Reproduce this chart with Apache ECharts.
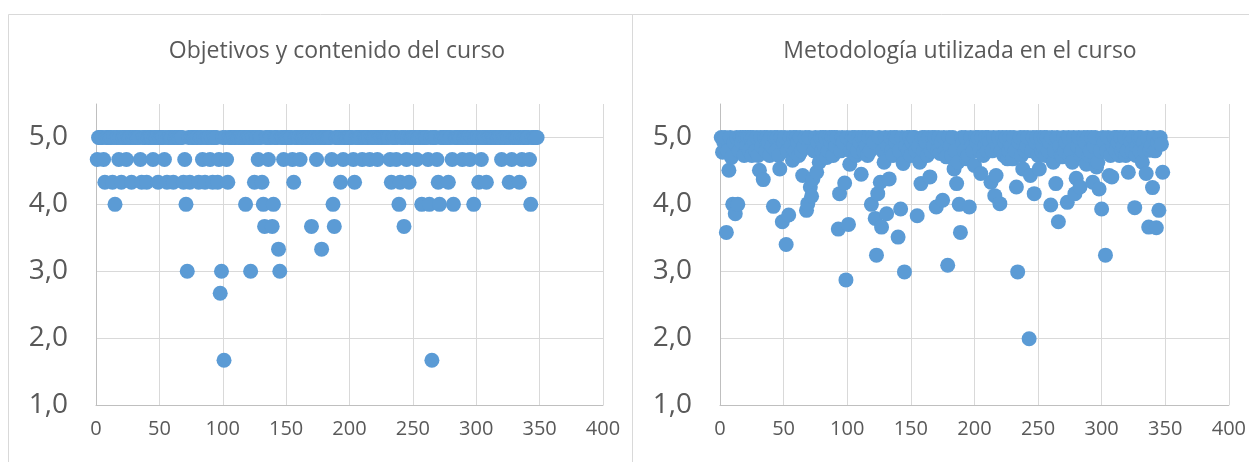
<!DOCTYPE html>
<html>
<head>
<meta charset="utf-8">
<script src="https://cdn.jsdelivr.net/npm/echarts@6/dist/echarts.min.js"></script>
<style>
html,body{margin:0;padding:0;background:#fff;}
#c{width:1249px;height:462px;}
</style>
</head>
<body>
<div id="c"></div>
<script>
// Titles
const titleLeft = 'Objetivos y contenido del curso';
const titleRight = 'Metodología utilizada en el curso';

// X axis ticks
const xTicks = [0, 50, 100, 150, 200, 250, 300, 350, 400];
// Y axis ticks
const yTicks = [1, 2, 3, 4, 5];

// Respondent scores (index 1..348) — "Objetivos y contenido del curso"
const objetivos = [
  4.67,5,5,5,5,4.67,4.33,5,5,5,
  5,5,4.33,5,4.0,5,5,4.67,5,4.33,
  5,5,5,4.67,5,5,5,4.33,5,5,
  5,5,5,5,4.67,4.33,5,5,5,4.33,
  5,5,5,5,4.67,5,5,5,4.33,5,
  5,5,5,4.67,5,4.33,5,5,5,5,
  4.33,5,5,5,5,5,5,5,4.33,4.67,
  4.0,3.0,5,4.33,5,5,5,5,5,5,
  4.33,5,5,4.67,5,4.33,5,5,5,4.67,
  5,4.33,5,5,5,4.33,4.67,2.67,3.0,5,
  1.67,5,4.67,4.33,5,5,5,5,5,5,
  5,5,5,5,5,5,5,4.0,5,5,
  5,3.0,5,5,4.33,5,5,4.67,5,5,
  4.33,4.0,3.67,5,5,4.67,5,5,3.67,4.0,
  5,5,5,3.33,3.0,5,5,4.67,5,5,
  5,5,5,5,4.67,4.33,5,5,5,5,
  4.67,5,5,5,5,5,5,5,5,3.67,
  5,5,5,4.67,5,5,5,3.33,5,5,
  5,5,5,5,5,4.67,4.0,3.67,5,5,
  5,5,4.33,5,4.67,5,5,5,5,5,
  5,5,4.67,4.33,5,5,5,5,5,4.67,
  5,5,5,5,5,4.67,5,5,5,5,
  5,4.67,5,5,5,5,5,5,5,5,
  5,4.67,4.33,5,5,5,4.67,5,4.0,4.33,
  5,5,3.67,5,4.67,5,4.33,5,5,5,
  5,5,4.67,5,5,5,4.0,5,5,5,
  5,4.67,4.0,5,1.67,5,5,5,4.67,4.33,
  4.0,5,5,5,5,5,5,4.33,5,5,
  4.67,4.0,5,5,5,5,5,5,4.67,5,
  5,5,5,5,4.67,5,5,4.0,5,5,
  5,4.33,5,4.67,5,5,5,4.33,5,5,
  5,5,5,5,5,5,5,5,5,4.67,
  5,5,5,5,5,4.33,5,4.67,5,5,
  5,5,5,4.33,5,4.67,5,5,5,5,
  5,4.67,4.0,5,5,5,5,5
];

// Respondent scores (index 1..348) — "Metodología utilizada en el curso"
const metodologia = [
  5,4.78,4.93,5,3.58,4.8,4.51,5,4.7,4.0,
  4.93,3.86,5,4.0,4.8,5,4.93,5,4.73,5,
  4.87,5,4.8,5,4.73,5,4.93,4.8,5,4.73,
  4.51,5,4.87,4.37,5,4.8,5,4.93,4.73,5,
  4.87,3.97,5,4.8,5,4.73,4.53,5,3.74,4.93,
  5,3.4,4.8,3.84,5,4.87,4.66,5,4.8,5,
  4.93,4.73,5,4.8,4.43,4.87,5,3.91,4.01,5,
  4.26,4.12,4.38,4.8,5,4.48,4.93,4.63,5,4.8,
  5,4.87,5,4.7,4.8,5,4.93,5,4.73,5,
  4.87,5,3.63,4.16,4.8,5,4.93,4.32,2.87,5,
  3.7,4.6,4.8,5,4.87,5,4.73,4.8,5,4.93,
  4.45,5,4.8,5,4.87,4.73,5,4.8,4.0,5,
  4.93,3.79,3.24,4.16,5,4.33,3.66,4.8,4.63,5,
  3.86,4.87,4.38,5,4.8,4.73,5,4.93,5,3.51,
  4.8,3.93,5,4.61,2.99,4.87,5,4.8,5,4.73,
  4.93,5,5,4.8,3.83,4.87,4.63,4.31,5,4.8,
  5,4.93,4.73,5,4.41,4.8,5,4.87,5,3.96,
  4.8,5,4.76,4.93,4.06,5,4.8,4.71,3.09,5,
  4.87,4.73,5,4.53,4.8,4.31,4.63,4.0,3.58,5,
  4.93,4.8,5,4.68,4.73,3.96,5,4.87,4.8,4.58,
  5,4.93,5,4.8,4.46,5,4.73,4.87,5,4.8,
  5,4.93,4.33,4.8,5,4.13,4.43,4.87,5,4.01,
  4.8,5,4.73,4.93,5,4.68,4.8,5,4.87,4.68,
  5,4.8,4.26,2.99,4.93,5,4.73,4.53,5,4.8,
  4.87,5,1.99,4.43,4.8,5,4.16,4.93,5,4.73,
  4.53,5,4.8,4.87,5,4.73,5,4.8,4.93,3.99,
  5,4.63,4.8,4.31,5,3.74,4.87,4.73,4.71,5,
  4.8,4.93,4.03,5,4.73,4.8,4.63,5,4.16,4.39,
  4.87,5,4.26,4.73,4.8,5,4.93,4.6,5,4.73,
  4.8,5,4.33,4.87,5,4.56,4.63,4.23,4.8,3.93,
  5,4.93,3.24,4.8,5,4.43,4.73,4.41,4.87,5,
  4.8,5,4.93,4.73,5,4.8,4.87,5,4.73,4.8,
  4.48,5,4.93,4.8,5,3.95,4.73,4.87,5,4.8,
  5,4.63,4.93,4.8,4.46,5,3.66,4.81,4.87,4.25,
  5,4.8,3.65,4.93,3.91,5,4.9,4.48
];

const toPoints = arr => arr.map((v, i) => [i + 1, v]);

const textColor = '#595959';
const gridColor = '#d9d9d9';
const axisColor = '#bfbfbf';
const dotColor = '#5b9bd5';
const fontFam = '"Open Sans", "Noto Sans", sans-serif';

function xAxisCfg(gridIndex) {
  return {
    type: 'value', gridIndex,
    min: xTicks[0], max: xTicks[xTicks.length - 1], interval: xTicks[1] - xTicks[0],
    axisLine: { show: true, lineStyle: { color: axisColor, width: 1 } },
    axisTick: { show: false },
    axisLabel: { color: textColor, fontSize: 20, fontFamily: fontFam, margin: 14 },
    splitLine: { show: true, lineStyle: { color: gridColor, width: 1 } }
  };
}
function yAxisCfg(gridIndex) {
  return {
    type: 'value', gridIndex,
    min: yTicks[0], max: 5.5, interval: 1,
    axisLine: { show: true, lineStyle: { color: axisColor, width: 1 } },
    axisTick: { show: false },
    axisLabel: {
      color: textColor, fontSize: 28, fontFamily: fontFam, margin: 28,
      showMaxLabel: false,
      formatter: v => yTicks.indexOf(v) >= 0 ? v.toFixed(1).replace('.', ',') : ''
    },
    splitLine: { show: true, showMaxLine: false, lineStyle: { color: gridColor, width: 1 } }
  };
}

const chart = echarts.init(document.getElementById('c'), null, { renderer: 'canvas' });
chart.setOption({
  animation: false,
  backgroundColor: '#ffffff',
  graphic: [
    { type: 'rect', shape: { x: 8.5, y: 14.5, width: 624, height: 470 }, style: { fill: 'none', stroke: gridColor, lineWidth: 1 }, silent: true, z: -10 },
    { type: 'rect', shape: { x: 632.5, y: 14.5, width: 640, height: 470 }, style: { fill: 'none', stroke: gridColor, lineWidth: 1 }, silent: true, z: -10 }
  ],
  title: [
    { text: titleLeft, left: 332, top: 35, textAlign: 'center',
      textStyle: { color: textColor, fontSize: 23, fontWeight: 'normal', fontFamily: fontFam } },
    { text: titleRight, left: 955, top: 35, textAlign: 'center',
      textStyle: { color: textColor, fontSize: 23, fontWeight: 'normal', fontFamily: fontFam } }
  ],
  grid: [
    { left: 96, top: 104, width: 507, height: 301 },
    { left: 720, top: 104, width: 510, height: 301 }
  ],
  xAxis: [xAxisCfg(0), xAxisCfg(1)],
  yAxis: [yAxisCfg(0), yAxisCfg(1)],
  series: [
    { type: 'scatter', xAxisIndex: 0, yAxisIndex: 0, data: toPoints(objetivos),
      symbol: 'circle', symbolSize: 15, itemStyle: { color: dotColor, opacity: 1 } },
    { type: 'scatter', xAxisIndex: 1, yAxisIndex: 1, data: toPoints(metodologia),
      symbol: 'circle', symbolSize: 15, itemStyle: { color: dotColor, opacity: 1 } }
  ]
});
</script>
</body>
</html>
